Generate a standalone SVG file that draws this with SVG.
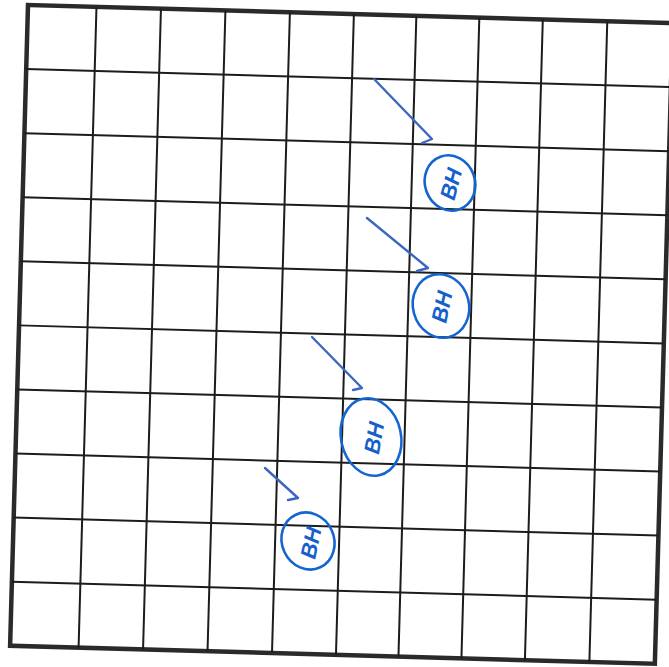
<svg xmlns="http://www.w3.org/2000/svg" width="669" height="667" viewBox="0 0 669 667">
<style>
.frame{fill:none;stroke:#2a2a2a;stroke-width:4.5}
.grid{stroke:#1c1c1c;stroke-width:2;fill:none}
.ring{fill:none;stroke:#1565d0;stroke-width:2.6}
.lbl{font-family:"Liberation Sans",Arial,sans-serif;font-size:22px;font-style:italic;font-weight:bold;fill:#1560cc;text-anchor:middle;dominant-baseline:central}
.arrow{fill:none;stroke:#3d66c4;stroke-width:2.4;stroke-linecap:round;stroke-linejoin:round}
</style>
<rect width="669" height="667" fill="#ffffff"/>
<g id="grid" transform="translate(28,5) rotate(1.6)">
<rect class="frame" x="0" y="0" width="645" height="641"/>
<g class="grid">
<line x1="68.5" y1="0" x2="68.5" y2="641"/>
<line x1="133" y1="0" x2="133" y2="641"/>
<line x1="197.5" y1="0" x2="197.5" y2="641"/>
<line x1="262" y1="0" x2="262" y2="641"/>
<line x1="326" y1="0" x2="326" y2="641"/>
<line x1="388.5" y1="0" x2="388.5" y2="641"/>
<line x1="451.5" y1="0" x2="451.5" y2="641"/>
<line x1="515" y1="0" x2="515" y2="641"/>
<line x1="579.5" y1="0" x2="579.5" y2="641"/>
<line x1="0" y1="64.1" x2="645" y2="64.1"/>
<line x1="0" y1="128.2" x2="645" y2="128.2"/>
<line x1="0" y1="192.3" x2="645" y2="192.3"/>
<line x1="0" y1="256.4" x2="645" y2="256.4"/>
<line x1="0" y1="320.5" x2="645" y2="320.5"/>
<line x1="0" y1="384.6" x2="645" y2="384.6"/>
<line x1="0" y1="448.7" x2="645" y2="448.7"/>
<line x1="0" y1="512.8" x2="645" y2="512.8"/>
<line x1="0" y1="576.9" x2="645" y2="576.9"/>
</g>
</g>
<g id="connectors">
<path class="arrow" d="M374,79 L432,139 L422,143"/>
<path class="arrow" d="M367,218 L428,268 L417,271"/>
<path class="arrow" d="M312,337 L362,388 L353,390"/>
<path class="arrow" d="M265,468 L298,498 L288,500"/>
</g>
<g id="bh1">
<ellipse class="ring" cx="450" cy="183" rx="25" ry="28" transform="rotate(-20 450 183)"/>
<text class="lbl" x="451" y="184" transform="rotate(-75 451 184)">BH</text>
</g>
<g id="bh2">
<ellipse class="ring" cx="441" cy="306" rx="28" ry="32" transform="rotate(-15 441 306)"/>
<text class="lbl" x="442" y="307" transform="rotate(-78 442 307)">BH</text>
</g>
<g id="bh3">
<ellipse class="ring" cx="371" cy="437" rx="30" ry="39" transform="rotate(-12 371 437)"/>
<text class="lbl" x="374" y="438" font-size="25" transform="rotate(-80 374 438)">BH</text>
</g>
<g id="bh4">
<ellipse class="ring" cx="308" cy="541" rx="26" ry="29" transform="rotate(-25 308 541)"/>
<text class="lbl" x="311" y="543" transform="rotate(-78 311 543)">BH</text>
</g>
</svg>
